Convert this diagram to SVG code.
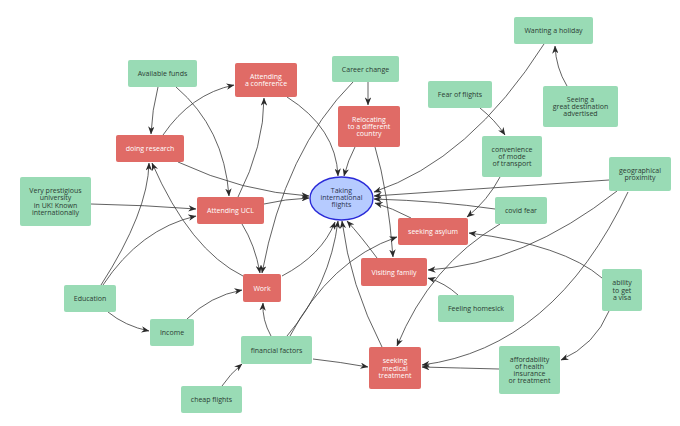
<svg xmlns="http://www.w3.org/2000/svg" width="680" height="426" viewBox="0 0 680 426">
<defs>
<style>
.g rect{fill:#99dbb5}
.r rect{fill:#e06b66}
text{font-family:"Open Sans","Liberation Sans",sans-serif;font-size:7px;text-anchor:middle}
.g text{fill:#2b3b33}
.r text{fill:#ffffff}
.e text{fill:#2b3350}
.e ellipse{fill:#b6cbff;stroke:#2a2ad8;stroke-width:1.4}
#edges path{fill:none;stroke:#3a3a3a;stroke-width:0.8;marker-end:url(#ah)}
</style>
<marker id="ah" viewBox="0 0 10 8" refX="9.5" refY="4" markerWidth="8" markerHeight="6.4" markerUnits="userSpaceOnUse" orient="auto">
<path d="M0,0 L10,4 L0,8 L3,4 Z" fill="#2a2a2a"/>
</marker>
</defs>
<rect width="680" height="426" fill="#ffffff"/>
<g id="edges">
<path d="M544,44 Q470,160 374,192"/>
<path d="M567,86 Q556,68 555,46"/>
<path d="M480,108 Q495,120 505,135"/>
<path d="M500,177 Q488,200 467,217"/>
<path d="M609,180 Q490,188 374,196"/>
<path d="M495,209 Q440,201 374,199"/>
<path d="M411,218 Q392,208 375,203"/>
<path d="M602,278 Q564,245 469,233"/>
<path d="M617,191 Q524,264 428,270"/>
<path d="M628,192 Q554,348 422,365"/>
<path d="M500,224 Q430,265 397,346"/>
<path d="M499,369 Q460,368 422,367"/>
<path d="M458,295 Q445,283 428,278"/>
<path d="M609,311 Q595,345 561,360"/>
<path d="M355,147 Q348,160 344,176"/>
<path d="M375,147 Q388,190 393,257"/>
<path d="M368,82 L368,105"/>
<path d="M353,82 Q285,150 262,273"/>
<path d="M287,97 Q336,128 338,176"/>
<path d="M238,197 Q264,146 264,98"/>
<path d="M163,135 Q191,94 234,85"/>
<path d="M158,87 Q152,110 151,134"/>
<path d="M176,87 Q224,128 229,196"/>
<path d="M178,162 Q242,192 309,196"/>
<path d="M264,204 Q285,199 309,198"/>
<path d="M91,204 Q145,205 196,209"/>
<path d="M101,285 Q148,212 149,163"/>
<path d="M103,285 Q140,229 196,216"/>
<path d="M243,276 Q190,250 152,163"/>
<path d="M242,224 Q255,245 260,273"/>
<path d="M187,319 Q210,296 242,290"/>
<path d="M108,312 Q125,326 149,331"/>
<path d="M222,386 Q230,374 242,364"/>
<path d="M271,336 Q262,320 263,303"/>
<path d="M287,336 Q330,285 338,221"/>
<path d="M290,336 Q330,260 397,237"/>
<path d="M282,276 Q322,255 335,222"/>
<path d="M382,347 Q350,285 342,221"/>
<path d="M377,258 Q360,235 347,221"/>
<path d="M313,359 Q340,362 368,367"/>
</g>
<g id="holiday" class="g"><rect x="514" y="17" width="79" height="27" rx="2"/><text x="553.5" y="33">Wanting a holiday</text></g>
<g id="seeing" class="g"><rect x="543" y="86" width="75" height="41" rx="2"/><text x="580.5" y="101.8">Seeing a<tspan x="580.5" dy="7.2">great destination</tspan><tspan x="580.5" dy="7.2">advertised</tspan></text></g>
<g id="fear" class="g"><rect x="428" y="81" width="64" height="27" rx="2"/><text x="460" y="97">Fear of flights</text></g>
<g id="convenience" class="g"><rect x="482" y="136" width="60" height="41" rx="2"/><text x="512" y="151.8">convenience<tspan x="512" dy="7.2">of mode</tspan><tspan x="512" dy="7.2">of transport</tspan></text></g>
<g id="geo" class="g"><rect x="609" y="157" width="62" height="34" rx="2"/><text x="640" y="172.9">geographical<tspan x="640" dy="7.2">proximity</tspan></text></g>
<g id="covid" class="g"><rect x="495" y="197" width="52" height="27" rx="2"/><text x="521" y="213">covid fear</text></g>
<g id="visa" class="g"><rect x="602" y="269" width="40" height="42" rx="2"/><text x="622" y="285.3">ability<tspan x="622" dy="7.2">to get</tspan><tspan x="622" dy="7.2">a visa</tspan></text></g>
<g id="afford" class="g"><rect x="499" y="346" width="61" height="48" rx="2"/><text x="529.5" y="361.7">affordability<tspan x="529.5" dy="7.2">of health</tspan><tspan x="529.5" dy="7.2">insurance</tspan><tspan x="529.5" dy="7.2">or treatment</tspan></text></g>
<g id="homesick" class="g"><rect x="438" y="295" width="76" height="27" rx="2"/><text x="476" y="311">Feeling homesick</text></g>
<g id="asylum" class="r"><rect x="398" y="218" width="70" height="27" rx="2"/><text x="433" y="234">seeking asylum</text></g>
<g id="visiting" class="r"><rect x="361" y="258" width="66" height="28" rx="2"/><text x="394" y="274.5">Visiting family</text></g>
<g id="medical" class="r"><rect x="369" y="347" width="52" height="42" rx="2"/><text x="395" y="363.3">seeking<tspan x="395" dy="7.2">medical</tspan><tspan x="395" dy="7.2">treatment</tspan></text></g>
<g id="financial" class="g"><rect x="241" y="336" width="71" height="28" rx="2"/><text x="276.5" y="352.5">financial factors</text></g>
<g id="work" class="r"><rect x="243" y="274" width="38" height="28" rx="2"/><text x="262" y="290.5">Work</text></g>
<g id="cheap" class="g"><rect x="181" y="386" width="61" height="27" rx="2"/><text x="211.5" y="402">cheap flights</text></g>
<g id="income" class="g"><rect x="150" y="319" width="44" height="27" rx="2"/><text x="172" y="335">Income</text></g>
<g id="education" class="g"><rect x="64" y="285" width="52" height="27" rx="2"/><text x="90" y="301">Education</text></g>
<g id="ucl" class="r"><rect x="197" y="197" width="67" height="27" rx="2"/><text x="230.5" y="213">Attending UCL</text></g>
<g id="prestigious" class="g"><rect x="20" y="177" width="71" height="49" rx="2"/><text x="55.5" y="193.2">Very prestigious<tspan x="55.5" dy="7.2">university</tspan><tspan x="55.5" dy="7.2">in UK! Known</tspan><tspan x="55.5" dy="7.2">internationally</tspan></text></g>
<g id="research" class="r"><rect x="116" y="135" width="68" height="27" rx="2"/><text x="150" y="151">doing research</text></g>
<g id="funds" class="g"><rect x="128" y="60" width="69" height="27" rx="2"/><text x="162.5" y="76">Available funds</text></g>
<g id="conference" class="r"><rect x="235" y="63" width="62" height="34" rx="2"/><text x="266" y="78.9">Attending<tspan x="266" dy="7.2">a conference</tspan></text></g>
<g id="career" class="g"><rect x="332" y="56" width="67" height="26" rx="2"/><text x="365.5" y="71.5">Career change</text></g>
<g id="relocating" class="r"><rect x="338" y="106" width="62" height="41" rx="2"/><text x="369" y="121.8">Relocating<tspan x="369" dy="7.2">to a different</tspan><tspan x="369" dy="7.2">country</tspan></text></g>
<g id="flights" class="e"><ellipse cx="341.5" cy="198.5" rx="31.5" ry="21.5"/><text x="341.5" y="193.3">Taking<tspan x="341.5" dy="6.9">international</tspan><tspan x="341.5" dy="6.9">flights</tspan></text></g>
</svg>
